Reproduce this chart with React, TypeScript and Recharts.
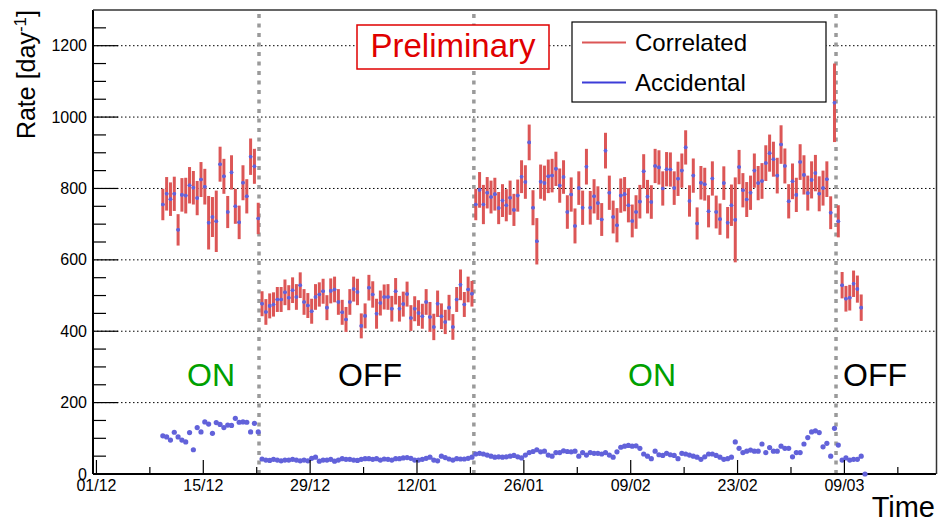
import React from 'react';
import { ComposedChart, Scatter, XAxis, YAxis, ErrorBar, ReferenceLine } from 'recharts';

// time bins: half-day bins, first bin centre in days after 01/12
const FIRST_BIN_DAY = 8.7;
const BIN_WIDTH = 0.5;

// Correlated rate [day^-1] per period
const corrOn1 = [755, 785, 770, 785, 684, 782, 780, 809, 802, 773, 825, 805, 704, 720, 708, 868, 834, 734, 845, 750, 705, 816, 778, 889, 862, 716];
const corrOff1 = [477, 454, 471, 475, 489, 489, 509, 494, 515, 496, 529, 482, 472, 456, 496, 503, 512, 466, 513, 517, 482, 453, 433, 482, 518, 510, 415, 443, 522, 503, 449, 479, 496, 496, 463, 512, 463, 476, 504, 437, 463, 451, 442, 482, 440, 412, 477, 442, 426, 466, 412, 489, 530, 475, 517, 505];
const corrOn2 = [755, 796, 755, 788, 776, 784, 745, 766, 753, 774, 740, 780, 833, 818, 929, 746, 652, 819, 815, 834, 836, 855, 808, 832, 734, 783, 695, 801, 746, 861, 746, 778, 759, 713, 906, 788, 720, 697, 780, 784, 753, 709, 734, 763, 848, 777, 762, 863, 859, 800, 854, 853, 801, 827, 850, 915,
  765, 836, 702, 816, 812, 736, 828, 734, 714, 815, 704, 753, 712, 860, 795, 769, 788, 850, 815, 821, 871, 899, 882, 836, 923, 863, 764, 820, 782, 874, 838, 787, 824, 843, 785, 801, 826, 732, 1040, 708];
const corrOff2 = [529, 491, 494, 533, 518, 466];

// Correlated statistical errors
const errOn1 = [44, 47, 47, 48, 44, 47, 50, 51, 47, 48, 49, 50, 75, 56, 86, 49, 49, 45, 48, 49, 47, 49, 48, 51, 49, 44];
const errOff1 = [35, 36, 35, 34, 35, 35, 36, 35, 36, 36, 36, 36, 35, 35, 36, 34, 35, 35, 35, 36, 36, 35, 35, 36, 35, 37, 35, 35, 36, 37, 42, 35, 35, 36, 36, 37, 36, 35, 35, 36, 35, 36, 35, 36, 42, 37, 37, 36, 34, 36, 36, 35, 43, 35, 36, 36];
const errOn2 = [44, 50, 55, 44, 46, 46, 45, 46, 45, 48, 45, 45, 46, 47, 50, 49, 65, 48, 49, 47, 47, 48, 48, 47, 47, 48, 49, 47, 48, 50, 47, 48, 47, 46, 50, 48, 46, 48, 48, 48, 48, 46, 47, 47, 48, 47, 47, 48, 48, 48, 48, 48, 47, 48, 48, 48,
  44, 48, 45, 47, 46, 45, 48, 46, 44, 47, 44, 58, 119, 48, 48, 49, 48, 48, 48, 50, 50, 52, 49, 50, 54, 49, 48, 50, 48, 50, 55, 49, 52, 51, 49, 49, 50, 46, 110, 45];
const errOff2 = [37, 36, 36, 37, 38, 37];

// Accidental rate [day^-1] per period
const accOn1 = [107, 104, 95, 117, 104, 95, 90, 116, 68, 130, 118, 146, 140, 114, 144, 139, 130, 137, 136, 156, 145, 146, 145, 118, 142, 118];
const accOff1 = [42, 39, 38, 41, 39, 37, 39, 39, 41, 39, 37, 39, 37, 44, 47, 36, 39, 39, 41, 36, 39, 43, 41, 41, 39, 38, 41, 43, 43, 41, 43, 39, 42, 41, 39, 43, 43, 45, 46, 44, 39, 39, 41, 44, 47, 39, 37, 50, 46, 42, 39, 43, 42, 42, 44, 47];
const accOn2 = [56, 58, 56, 53, 50, 47, 48, 47, 48, 50, 52, 48, 45, 53, 60, 63, 68, 62, 64, 53, 50, 60, 60, 65, 63, 62, 64, 50, 60, 53, 60, 58, 58, 56, 60, 53, 47, 62, 75, 78, 80, 78, 79, 72, 56, 50, 43, 64, 54, 52, 58, 54, 52, 43, 58, 56, 53, 50, 47, 41, 48, 56, 56, 52, 47, 41, 43, 47, 90, 72, 60, 64, 67, 64, 64, 84, 60, 74, 64, 64, 78, 72, 72, 48, 60, 60, 84, 102, 118, 121, 116, 76, 86, 50, 128, 81];
const accOff2 = [39, 45, 39, 41, 41, 50, 0];

// axis ticks
const xMajorDays = [0, 14, 28, 42, 56, 70, 84, 98];
const xMajorLabels = ['01/12', '15/12', '29/12', '12/01', '26/01', '09/02', '23/02', '09/03'];
const xMinorDays = [7, 21, 35, 49, 63, 77, 91, 105];
const yMajor = [0, 200, 400, 600, 800, 1000, 1200];
const yMinor = [50, 100, 150, 250, 300, 350, 450, 500, 550, 650, 700, 750, 850, 900, 950, 1050, 1100, 1150, 1250];
const reactorTransitions = [21.3, 49.45, 96.9];

const corrRate = [...corrOn1, ...corrOff1, ...corrOn2, ...corrOff2];
const corrErr = [...errOn1, ...errOff1, ...errOn2, ...errOff2];
const accRate = [...accOn1, ...accOff1, ...accOn2, ...accOff2];

const corrData = corrRate.map((v, i) => ({ d: FIRST_BIN_DAY + BIN_WIDTH * i, v, e: corrErr[i] }));
const accData = accRate.map((v, i) => ({ d: FIRST_BIN_DAY + BIN_WIDTH * i, v }));

const FONT = '"Liberation Sans", Arial, Helvetica, sans-serif';
const RED = '#dc5656';
const DOT = '#6262da';

const XTick = (p: any) => {
  const { x, y, payload } = p;
  const idx = xMajorDays.indexOf(payload.value);
  const major = idx >= 0;
  return (
    <g>
      <line x1={x} x2={x} y1={y} y2={y - (major ? 14 : 7)} stroke="#000" strokeWidth={1.2} />
      {major && (
        <text x={x} y={y + 17} textAnchor="middle" fontSize={16} fontFamily={FONT} fill="#000">
          {xMajorLabels[idx]}
        </text>
      )}
    </g>
  );
};

const YTick = (p: any) => {
  const { x, y, payload } = p;
  const major = yMajor.indexOf(payload.value) >= 0;
  return (
    <g>
      <line x1={x} x2={x + (major ? 25 : 13)} y1={y} y2={y} stroke="#000" strokeWidth={1.2} />
      {major && (
        <text x={x - 6} y={y} dy="0.35em" textAnchor="end" fontSize={16} fontFamily={FONT} fill="#000">
          {payload.value}
        </text>
      )}
    </g>
  );
};

const smallDot = (props: any) => <circle cx={props.cx} cy={props.cy} r={1.8} fill={DOT} />;
const accDot = (props: any) => <circle cx={props.cx} cy={props.cy} r={2.6} fill={DOT} />;

const xTicks = [...xMajorDays, ...xMinorDays].sort((a, b) => a - b);
const yTicks = [...yMajor, ...yMinor].sort((a, b) => a - b);

export default function App() {
  return (
    <div style={{ position: 'absolute', left: 0, top: 0, width: 939, height: 522, background: '#fff', fontFamily: FONT }}>
      <ComposedChart width={939} height={522} margin={{ top: 10, right: 3, left: 0, bottom: 0 }}>
        <XAxis
          type="number"
          dataKey="d"
          domain={[-0.45, 110]}
          ticks={xTicks}
          interval={0}
          tickLine={false}
          tickSize={0}
          tickMargin={0}
          axisLine={{ stroke: '#000', strokeWidth: 2 }}
          height={48}
          tick={<XTick />}
        />
        <YAxis
          type="number"
          dataKey="v"
          domain={[0, 1300]}
          ticks={yTicks}
          interval={0}
          tickLine={false}
          tickSize={0}
          tickMargin={0}
          axisLine={{ stroke: '#000', strokeWidth: 2 }}
          width={93}
          tick={<YTick />}
        />
        {yMajor.filter((v) => v > 0).map((v) => (
          <ReferenceLine key={'g' + v} y={v} stroke="#000" strokeWidth={1} strokeDasharray="1.5 2.5" />
        ))}
        {reactorTransitions.map((d) => (
          <ReferenceLine key={'t' + d} x={d} stroke="#9a9a9a" strokeWidth={3.5} strokeDasharray="4 5.5" />
        ))}
        <Scatter data={corrData} dataKey="v" isAnimationActive={false} shape={smallDot}>
          <ErrorBar dataKey="e" direction="y" width={0} stroke={RED} strokeWidth={3} />
        </Scatter>
        <Scatter data={corrData} dataKey="v" isAnimationActive={false} shape={smallDot} />
        <Scatter data={accData} dataKey="v" isAnimationActive={false} shape={accDot} />
      </ComposedChart>
      <svg width={939} height={522} style={{ position: 'absolute', left: 0, top: 0, pointerEvents: 'none' }}>
        <g fontFamily={FONT}>
          <line x1={93} x2={936.5} y1={10} y2={10} stroke="#333" strokeWidth={1.5} />
          <line x1={936.5} x2={936.5} y1={10} y2={474} stroke="#333" strokeWidth={1.5} />
          <text transform="translate(35,10) rotate(-90)" textAnchor="end" fontSize={25} fill="#000">
            Rate [day<tspan dy={-9} fontSize={17}>-1</tspan><tspan dy={9}>]</tspan>
          </text>
          <text x={935} y={517} textAnchor="end" fontSize={29} fill="#000">Time</text>
          <rect x={357} y={25} width={192} height={44} fill="#fff" stroke="#e00000" strokeWidth={1.5} />
          <text x={453} y={57} textAnchor="middle" fontSize={33} fill="#e00000">Preliminary</text>
          <rect x={572} y={22} width={254} height={80} fill="#fff" stroke="#000" strokeWidth={1.2} />
          <line x1={582} x2={626} y1={42.5} y2={42.5} stroke={RED} strokeWidth={2} />
          <text x={635} y={51} fontSize={24} fill="#000">Correlated</text>
          <line x1={582} x2={626} y1={82.5} y2={82.5} stroke="#3c3cd8" strokeWidth={2} />
          <text x={635} y={91} fontSize={24} fill="#000">Accidental</text>
          <text x={211} y={386} textAnchor="middle" fontSize={32} fill="#00a000">ON</text>
          <text x={370} y={386} textAnchor="middle" fontSize={32} fill="#000">OFF</text>
          <text x={652} y={386} textAnchor="middle" fontSize={32} fill="#00a000">ON</text>
          <text x={875} y={386} textAnchor="middle" fontSize={32} fill="#000">OFF</text>
        </g>
      </svg>
    </div>
  );
}
